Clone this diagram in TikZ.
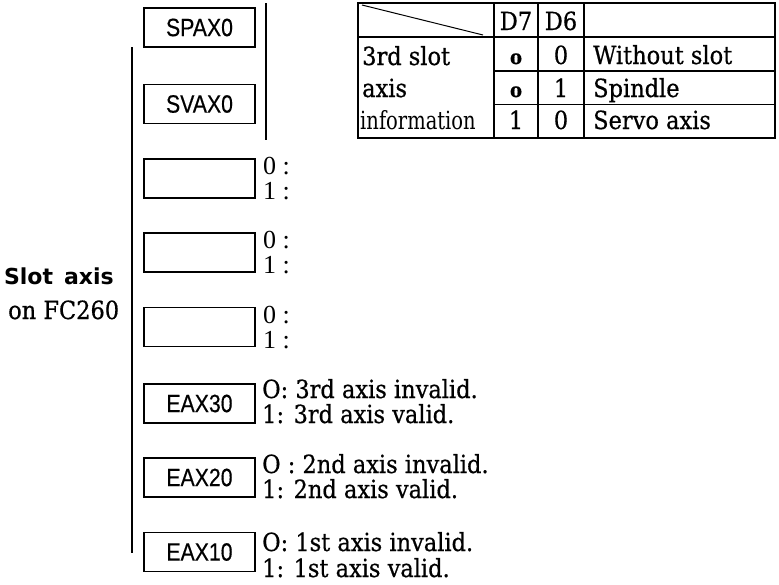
\documentclass[tikz,border=0pt]{standalone}
\usepackage{fontspec}
\setmainfont{DejaVu Serif}[FakeStretch=0.9,FakeBold=0.6]
\newfontfamily\narrowserif{DejaVu Serif}[FakeStretch=0.78]
\newfontfamily\lightserif{Liberation Serif}
\newfontfamily\boxfont{Liberation Sans}[FakeStretch=0.85,FakeBold=0.4]
\newfontfamily\labelfont{DejaVu Sans}
\begin{document}
\begin{tikzpicture}[x=1pt,y=-1pt,
  bx/.style={draw, line width=1.7pt, minimum width=111pt, minimum height=39pt, inner sep=0pt, font=\boxfont\fontsize{25}{25}\selectfont},
  lbl/.style={anchor=base west, inner sep=0pt, font=\fontsize{25}{26}\selectfont},
  bitlbl/.style={anchor=base west, inner sep=0pt, font=\lightserif\fontsize{26}{26}\selectfont},
  tbl/.style={anchor=base, inner sep=0pt, font=\fontsize{25}{26}\selectfont},
  tbll/.style={anchor=base west, inner sep=0pt, font=\fontsize{25}{26}\selectfont},
  thick line/.style={line width=2.6pt},
  thin line/.style={line width=1.3pt}]
\useasboundingbox (0,0) rectangle (779,584);

% left labels
\node[anchor=base east, inner sep=0pt, font=\labelfont\bfseries\fontsize{22}{26}\selectfont] (slot) at (114,284) {Slot\hspace{0.5em}axis};
\node[anchor=base west, inner sep=0pt, font=\fontsize{25}{26}\selectfont] (fc) at (8,319) {on FC260};

% vertical lines
\coordinate (ltop) at (132,47);
\coordinate (lbot) at (132,553);
\draw[line width=2pt] (ltop) -- (lbot);
\coordinate (rtop) at (266,3);
\coordinate (rbot) at (266,140);
\draw[line width=2pt] (rtop) -- (rbot);

% boxes
\node[bx] (spax) at (199.5,27.5) {SPAX0};
\node[bx] (svax) at (199.5,104) {SVAX0};
\node[bx] (b1) at (199.5,178.5) {};
\node[bx] (b2) at (199.5,252.5) {};
\node[bx] (b3) at (199.5,327) {};
\node[bx] (eax3) at (199.5,403.5) {EAX30};
\node[bx] (eax2) at (199.5,477.5) {EAX20};
\node[bx] (eax1) at (199.5,552) {EAX10};

% bit labels
\node[bitlbl] (b1z) at (263,174) {0 :};
\node[bitlbl] (b1o) at (263,199) {1 :};
\node[bitlbl] (b2z) at (263,248) {0 :};
\node[bitlbl] (b2o) at (263,273) {1 :};
\node[bitlbl] (b3z) at (263,323) {0 :};
\node[bitlbl] (b3o) at (263,348) {1 :};

\node[lbl] (e3z) at (262,398) {O: 3rd axis invalid.};
\node[lbl] (e3o) at (262,423) {1: 3rd axis valid.};
\node[lbl] (e2z) at (262,473) {O : 2nd axis invalid.};
\node[lbl] (e2o) at (262,498) {1: 2nd axis valid.};
\node[lbl] (e1z) at (262,551) {O: 1st axis invalid.};
\node[lbl] (e1o) at (262,577) {1: 1st axis valid.};

% table
\coordinate (tA) at (358,3);
\coordinate (tB) at (775,138);
\draw[thin line] (358,37) -- (775,37);
\draw[thin line] (494,71) -- (775,71);
\draw[thin line] (494,104.5) -- (775,104.5);
\draw[thin line] (538,3) -- (538,138);
\draw[thin line] (584,3) -- (584,138);
\draw[thick line] (494,3) -- (494,138);
\draw[thick line] (tA) rectangle (tB);
\draw[line width=1pt] (362,5) -- (483,35);

\node[tbl] (d7) at (516,30) {D7};
\node[tbl] (d6) at (561,30) {D6};
\node[tbl, font=\bfseries\fontsize{20}{24}\selectfont] (r1a) at (516,64) {o};
\node[tbl] (r1b) at (561,64) {0};
\node[tbll] (r1c) at (593,64) {Without slot};
\node[tbl, font=\bfseries\fontsize{20}{24}\selectfont] (r2a) at (516,97) {o};
\node[tbl] (r2b) at (561,97) {1};
\node[tbll] (r2c) at (593,97) {Spindle};
\node[tbl] (r3a) at (516,129) {1};
\node[tbl] (r3b) at (561,129) {0};
\node[tbll] (r3c) at (593,129) {Servo axis};
\node[tbll] (l1) at (362,65) {3rd slot};
\node[tbll] (l2) at (362,97) {axis};
\node[tbll, font=\narrowserif\fontsize{25}{26}\selectfont] (l3) at (360,129) {information};
\end{tikzpicture}
\end{document}
